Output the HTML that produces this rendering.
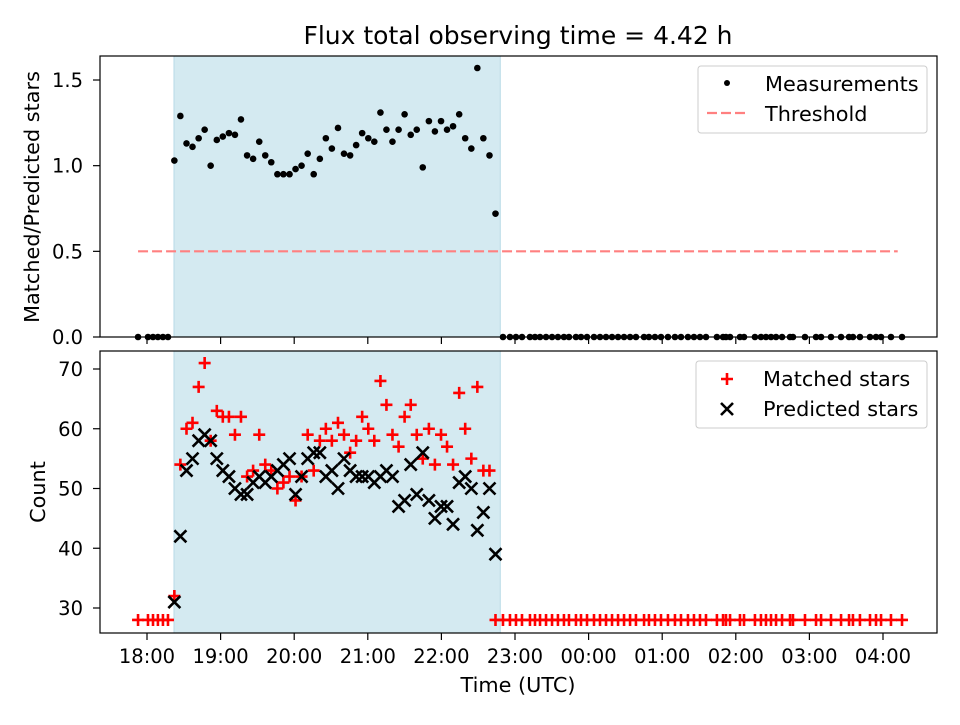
<!DOCTYPE html>
<html><head><meta charset="utf-8"><style>
body{margin:0;background:#fff}
text{font-family:"DejaVu Sans","Liberation Sans",sans-serif;fill:#000}
</style></head><body>
<svg id="chart" width="960" height="720" xmlns="http://www.w3.org/2000/svg"></svg>
<script>
const shadedTimes=[22.3,27.2,32.2,37.1,42.1,47.0,51.9,56.9,61.8,66.8,71.7,76.6,81.6,86.5,91.5,96.4,101.3,106.3,111.2,116.2,121.1,126.0,131.0,135.9,140.9,145.8,150.7,155.7,160.6,165.6,170.5,175.4,180.4,185.3,190.3,195.2,200.1,205.1,210.0,215.0,219.9,224.8,229.8,234.7,239.7,244.6,249.5,254.5,259.4,264.4,269.3,274.2,279.2,284.1];
const ratioValues=[1.03,1.29,1.13,1.11,1.16,1.21,1.00,1.15,1.17,1.19,1.18,1.27,1.06,1.04,1.14,1.06,1.02,0.95,0.95,0.95,0.98,1.00,1.07,0.95,1.04,1.16,1.10,1.22,1.07,1.06,1.12,1.19,1.16,1.14,1.31,1.21,1.14,1.21,1.30,1.18,1.21,0.99,1.26,1.20,1.26,1.21,1.23,1.30,1.16,1.10,1.57,1.16,1.06,0.72];
const matchedValues=[32,54,60,61,67,71,58,63,62,62,59,62,52,53,59,54,53,50,51,52,48,52,59,53,58,60,58,61,59,56,58,62,60,58,68,64,59,57,62,64,59,55,60,54,59,57,54,66,60,55,67,53,53,28];
const predictedValues=[31,42,53,55,58,59,58,55,53,52,50,49,49,51,52,51,52,53,54,55,49,52,55,56,56,52,53,50,55,53,52,52,52,51,52,53,52,47,48,54,49,56,48,45,47,47,44,51,52,50,43,46,50,39];
const zeroTimes=[-7.3,0.8,4.9,8.9,13.0,17.1,290.2,295.9,300.8,305.7,312.2,316.3,320.4,325.3,330.2,335.0,339.9,344.0,349.7,353.8,358.7,364.4,369.3,374.2,379.1,384.0,388.9,393.8,398.6,405.2,409.2,414.1,419.0,424.7,430.4,435.3,441.0,445.9,450.8,455.7,464.6,469.6,472.0,475.3,483.4,486.7,495.6,500.5,504.6,508.7,512.8,517.7,524.2,526.6,536.4,545.4,549.5,557.6,565.8,572.3,575.5,581.2,589.4,594.3,598.4,606.5,615.5];
const zeroCount=28;
const threshold=0.5;
const thresholdRange=[-7.3,612];
const shadeRange=[22,288];
const xTickMinutes=[0,60,120,180,240,300,360,420,480,540,600];
const xTickLabels=["18:00","19:00","20:00","21:00","22:00","23:00","00:00","01:00","02:00","03:00","04:00"];
const topTicks=[0,0.5,1.0,1.5];
const topTickLabels=["0.0","0.5","1.0","1.5"];
const botTicks=[30,40,50,60,70];

const svg=document.getElementById('chart');
const NS='http://www.w3.org/2000/svg';
function mk(tag,attrs,parent){const e=document.createElementNS(NS,tag);for(const k in attrs)e.setAttribute(k,attrs[k]);(parent||svg).appendChild(e);return e;}
const L=100,R=937;
const FS=20.8;
const X=m=>147+m*73.6/60;
const Yt=v=>337-v*171.33;
const Yb=v=>608-(v-30)*5.975;

let t=mk('text',{x:518,y:44,'text-anchor':'middle','font-size':25});t.textContent='Flux total observing time = 4.42 h';


function panel(top,bot,name){
  const g=mk('g',{});
  
  const sh=mk('rect',{x:X(shadeRange[0]),y:top,width:X(shadeRange[1])-X(shadeRange[0]),height:bot-top,fill:'#d4eaf1',stroke:'#b8dbe7','stroke-width':1},g);
  
  return g;
}
const gt=panel(56,337,'top-panel');
const gb=panel(351,633,'bottom-panel');

const th=mk('line',{x1:X(thresholdRange[0]),x2:X(thresholdRange[1]),y1:Yt(threshold),y2:Yt(threshold),stroke:'#ff8080','stroke-width':2.2,'stroke-dasharray':'10,4'},gt);


shadedTimes.forEach((m,i)=>{const c=mk('circle',{cx:X(m),cy:Yt(ratioValues[i]),r:3.3,fill:'#000'},gt);
});
zeroTimes.forEach(m=>{const c=mk('circle',{cx:X(m),cy:Yt(0),r:3.3,fill:'#000'},gt);
});

function plus(x,y,g){const p=mk('path',{d:`M${x-6},${y}H${x+6}M${x},${y-6}V${y+6}`,stroke:'#ff0000','stroke-width':2.6},g);
}
function cross(x,y,g){const p=mk('path',{d:`M${x-6},${y-6}L${x+6},${y+6}M${x-6},${y+6}L${x+6},${y-6}`,stroke:'#000','stroke-width':2.6},g);
}
zeroTimes.forEach(m=>plus(X(m),Yb(zeroCount),gb));
shadedTimes.forEach((m,i)=>plus(X(m),Yb(matchedValues[i]),gb));
shadedTimes.forEach((m,i)=>cross(X(m),Yb(predictedValues[i]),gb));

function frame(top,bot,g){const r=mk('rect',{x:L,y:top,width:R-L,height:bot-top,fill:'none',stroke:'#000','stroke-width':1.2},g);
}
frame(56,337,gt);frame(351,633,gb);
xTickMinutes.forEach((m,i)=>{
  mk('line',{x1:X(m),x2:X(m),y1:337,y2:344,stroke:'#000','stroke-width':1.2},gt);
  mk('line',{x1:X(m),x2:X(m),y1:633,y2:640,stroke:'#000','stroke-width':1.2},gb);
  const tx=mk('text',{x:X(m),y:663,'text-anchor':'middle','font-size':19.5},gb);tx.textContent=xTickLabels[i];
  
});
topTicks.forEach((v,i)=>{mk('line',{x1:93,x2:100,y1:Yt(v),y2:Yt(v),stroke:'#000','stroke-width':1.2},gt);
  const tx=mk('text',{x:83,y:Yt(v)+7,'text-anchor':'end','font-size':19.5},gt);tx.textContent=topTickLabels[i];
  });
botTicks.forEach(v=>{mk('line',{x1:93,x2:100,y1:Yb(v),y2:Yb(v),stroke:'#000','stroke-width':1.2},gb);
  const tx=mk('text',{x:83,y:Yb(v)+7,'text-anchor':'end','font-size':19.5},gb);tx.textContent=String(v);
  });

let a=mk('text',{x:518,y:692,'text-anchor':'middle','font-size':FS});a.textContent='Time (UTC)';

a=mk('text',{x:0,y:0,'text-anchor':'middle','font-size':FS,transform:'translate(39,197) rotate(-90)'});a.textContent='Matched/Predicted stars';

a=mk('text',{x:0,y:0,'text-anchor':'middle','font-size':FS,transform:'translate(45,492) rotate(-90)'});a.textContent='Count';


function legendBox(x,y,w,h,name){const r=mk('rect',{x,y,width:w,height:h,rx:3,fill:'#fff','fill-opacity':0.8,stroke:'#ccc'});
}
legendBox(698,66,229,67,'top-legend');
let c=mk('circle',{cx:727,cy:83,r:3,fill:'#000'});
let lt=mk('text',{x:765,y:91,'font-size':FS});lt.textContent='Measurements';
c=mk('line',{x1:707,x2:747,y1:113,y2:113,stroke:'#ff8080','stroke-width':2.2,'stroke-dasharray':'10,4'});
lt=mk('text',{x:765,y:121,'font-size':FS});lt.textContent='Threshold';
legendBox(696,361,231,67,'bottom-legend');
plus(727,379,svg);cross(727,409,svg);
lt=mk('text',{x:763,y:386,'font-size':FS});lt.textContent='Matched stars';
lt=mk('text',{x:763,y:416,'font-size':FS});lt.textContent='Predicted stars';
</script>
</body></html>
